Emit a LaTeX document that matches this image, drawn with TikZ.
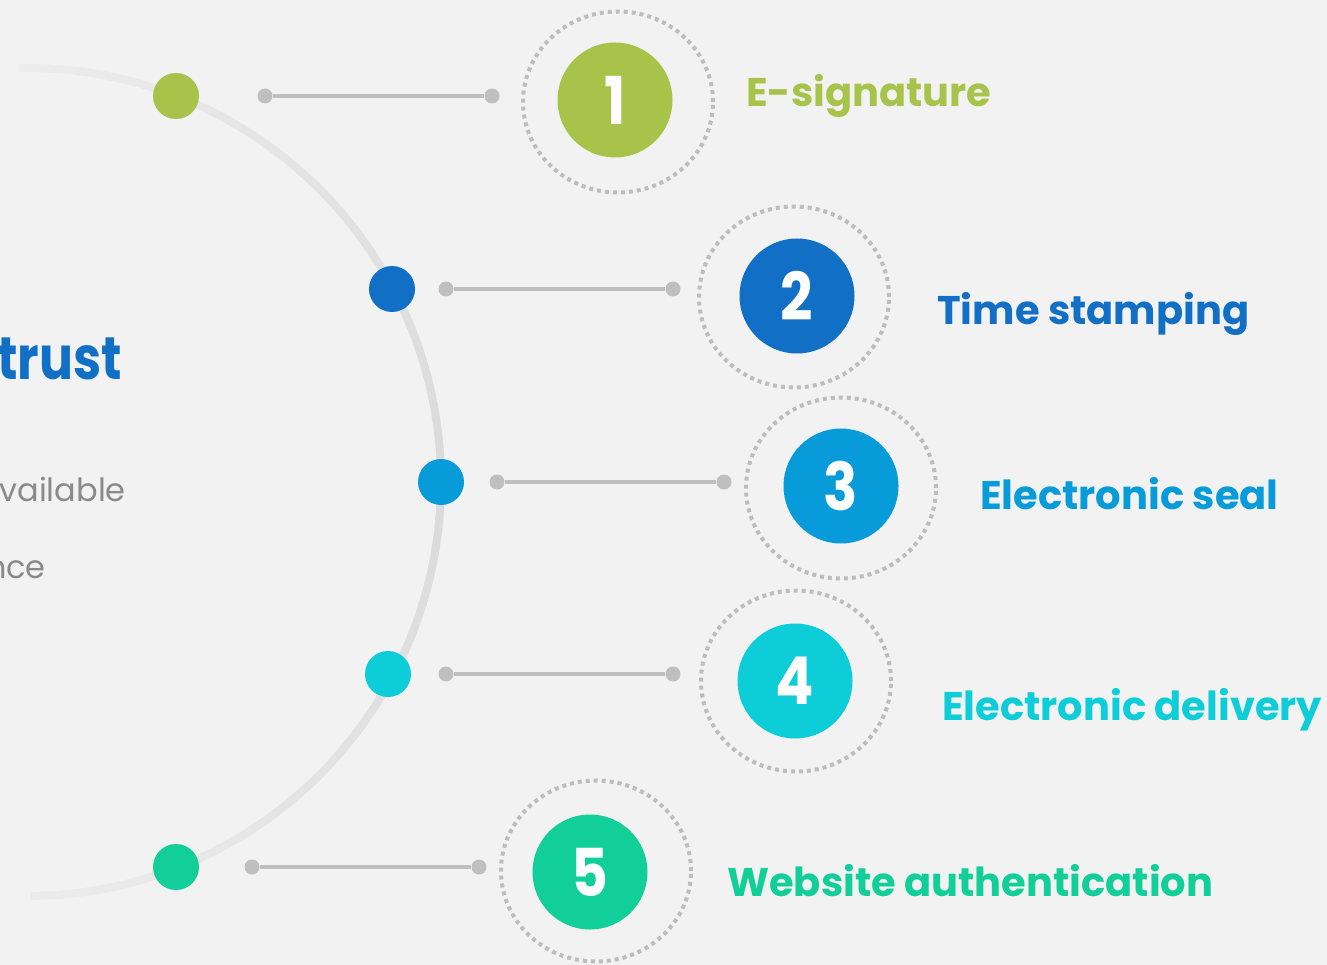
\documentclass[tikz,border=0pt]{standalone}
\usepackage{fontspec}
\setmainfont{Poppins}
\newfontfamily\numfont[FakeStretch=0.86]{Poppins}
\newfontfamily\titlefont[FakeStretch=0.84]{Poppins}
\usepackage{tikz}
\usetikzlibrary{positioning,calc,shapes.geometric}

\definecolor{bgc}{HTML}{F2F2F2}
\definecolor{arcc}{HTML}{DADADA}
\definecolor{linkc}{HTML}{BFBFBF}
\definecolor{ringc}{HTML}{BDBDBD}
\definecolor{cgreen}{HTML}{A8C34A}
\definecolor{cblue}{HTML}{116FC6}
\definecolor{csky}{HTML}{079BD9}
\definecolor{ccyan}{HTML}{0DCDD9}
\definecolor{cmint}{HTML}{12CF99}
\definecolor{greytxt}{HTML}{8A8A8A}

\tikzset{
  dot/.style={circle,fill=#1,minimum size=46pt,inner sep=0pt},
  tipdot/.style={circle,fill=linkc,minimum size=15pt,inner sep=0pt},
  link/.style={draw=linkc,line width=3.5pt},
  numcirc/.style={circle,fill=#1,minimum size=115pt,inner sep=0pt,text=white,font=\numfont\fontsize{66}{66}\selectfont\bfseries},
  ring/.style={ellipse,draw=ringc,line width=4pt,dash pattern=on 4pt off 4pt,minimum width=190pt,minimum height=181pt,inner sep=0pt},
  lbl/.style={anchor=base west,text=#1,font=\fontsize{40}{40}\selectfont\bfseries,inner sep=0pt},
}

\begin{document}
\begin{tikzpicture}[x=1pt,y=-1pt]
    % Background
    \fill[bgc] (0,0) rectangle (1327,965);
    \useasboundingbox (0,0) rectangle (1327,965);

    % Half circle, fading at both ends
    \coordinate (C) at (27,482);
    \foreach \a in {-91,-87,...,87} {
        \pgfmathsetmacro\m{100-75*abs(\a+2)/90}
        \draw[line width=8pt,color=arcc!\m!bgc] (C) ++(\a:414) arc[start angle=\a,end angle=\a+4.5,radius=414];
    }

    % Left text (cut by the edge)
    \node[anchor=base east,inner sep=0pt,text=cblue,font=\titlefont\fontsize{60}{60}\selectfont\bfseries] (title) at (122,379) {trust};
    \node[anchor=base east,inner sep=0pt,text=greytxt,font=\fontsize{32}{32}\selectfont] (sub1) at (126,501) {vailable};
    \node[anchor=base east,inner sep=0pt,text=greytxt,font=\fontsize{32}{32}\selectfont] (sub2) at (46,578) {nce};

    % Step 1
    \node[dot=cgreen] (d1) at (176,96) {};
    \node[tipdot] (a1) at (265,96) {};
    \node[tipdot] (b1) at (492,96) {};
    \draw[link] (a1) -- (b1);
    \node[ring] (r1) at (618,102) {};
    \node[numcirc=cgreen] (n1) at (615,100) {1};
    \node[lbl=cgreen] (t1) at (746,107) {E-signature};

    % Step 2
    \node[dot=cblue] (d2) at (392,289) {};
    \node[tipdot] (a2) at (446,289) {};
    \node[tipdot] (b2) at (673,289) {};
    \draw[link] (a2) -- (b2);
    \node[ring] (r2) at (794,297) {};
    \node[numcirc=cblue] (n2) at (797,296) {2};
    \node[lbl=cblue] (t2) at (937,325) {Time stamping};

    % Step 3
    \node[dot=csky] (d3) at (441,482) {};
    \node[tipdot] (a3) at (497,482) {};
    \node[tipdot] (b3) at (724,482) {};
    \draw[link] (a3) -- (b3);
    \node[ring] (r3) at (841,488) {};
    \node[numcirc=csky] (n3) at (841,486) {3};
    \node[lbl=csky] (t3) at (980,509) {Electronic seal};

    % Step 4
    \node[dot=ccyan] (d4) at (388,674) {};
    \node[tipdot] (a4) at (446,674) {};
    \node[tipdot] (b4) at (673,674) {};
    \draw[link] (a4) -- (b4);
    \node[ring] (r4) at (796,681) {};
    \node[numcirc=ccyan] (n4) at (795,681) {4};
    \node[lbl=ccyan] (t4) at (942,720) {Electronic delivery};

    % Step 5
    \node[dot=cmint] (d5) at (176,867) {};
    \node[tipdot] (a5) at (252,867) {};
    \node[tipdot] (b5) at (479,867) {};
    \draw[link] (a5) -- (b5);
    \node[ring] (r5) at (596,871) {};
    \node[numcirc=cmint] (n5) at (590,872) {5};
    \node[lbl=cmint] (t5) at (727,896) {Website authentication};
\end{tikzpicture}
\end{document}
